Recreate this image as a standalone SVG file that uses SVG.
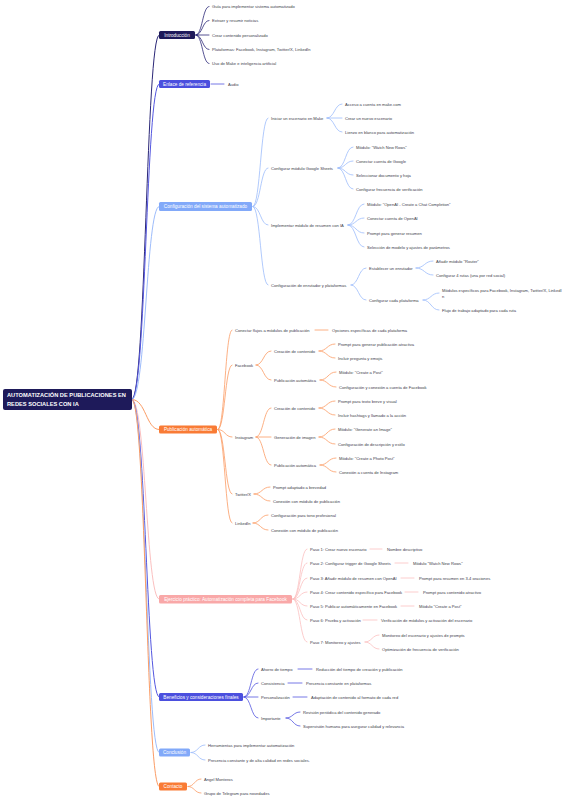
<svg xmlns="http://www.w3.org/2000/svg" width="568" height="800" viewBox="0 0 568 800">
<style>
text{font-family:"Liberation Sans",Arial,sans-serif;dominant-baseline:central}
.t{font-size:4.1px;fill:#3d3d4a}
.b{font-size:4.7px;fill:#fff;text-anchor:middle}
.r{font-size:5.7px;fill:#fff;font-weight:bold}
path{fill:none;stroke-linecap:round}
.navy{stroke:#2b2777;stroke-width:0.8}
.blue{stroke:#5457e0;stroke-width:0.8}
.lb{stroke:#9dbcfb;stroke-width:0.8}
.or{stroke:#fb9c65;stroke-width:0.8}
.pk{stroke:#fbc0c0;stroke-width:0.8}
.m{stroke-width:1}
</style>
<rect width="568" height="800" fill="#fff"/>
<g id="connectors">
<path class="navy m" d="M132 399.5C146 399.5 146 35 159 35"/>
<path class="blue m" d="M132 399.5C146 399.5 146 84 159 84"/>
<path class="lb m" d="M132 399.5C146 399.5 146 206.5 159 206.5"/>
<path class="or m" d="M132 399.5C146 399.5 146 429.5 159 429.5"/>
<path class="pk m" d="M132 399.5C146 399.5 146 599 159 599"/>
<path class="blue m" d="M132 399.5C146 399.5 146 697 159 697"/>
<path class="lb m" d="M132 399.5C146 399.5 146 752.5 159 752.5"/>
<path class="or m" d="M132 399.5C146 399.5 146 786.5 159 786.5"/>
<path class="navy" d="M196 35C202.5 35 202.5 6.5 209 6.5M196 35C202.5 35 202.5 20.5 209 20.5M196 35L209 35M196 35C202.5 35 202.5 49.5 209 49.5M196 35C202.5 35 202.5 63.5 209 63.5"/>
<path class="blue" d="M211 84L224 84"/>
<path class="lb" d="M253 206.5C260.5 206.5 260.5 118 268 118M253 206.5C260.5 206.5 260.5 168 268 168M253 206.5C260.5 206.5 260.5 225 268 225M253 206.5C260.5 206.5 260.5 285 268 285"/>
<path class="lb" d="M327 118C334.5 118 334.5 104 342 104M327 118L342 118M327 118C334.5 118 334.5 132 342 132"/>
<path class="lb" d="M338 168C345.5 168 345.5 147 353 147M338 168C345.5 168 345.5 161 353 161M338 168C345.5 168 345.5 175 353 175M338 168C345.5 168 345.5 189 353 189"/>
<path class="lb" d="M348 225C356 225 356 204 364 204M348 225C356 225 356 218 364 218M348 225C356 225 356 233 364 233M348 225C356 225 356 247 364 247"/>
<path class="lb" d="M351 285C358.5 285 358.5 268 366 268M351 285C358.5 285 358.5 300 366 300"/>
<path class="lb" d="M416 268C424.5 268 424.5 261 433 261M416 268C424.5 268 424.5 275 433 275"/>
<path class="lb" d="M423 300C431 300 431 293 439 293M423 300C431 300 431 310 439 310"/>
<path class="or" d="M218 429.5C225 429.5 225 330 232 330M218 429.5C225 429.5 225 365 232 365M218 429.5C225 429.5 225 437 232 437M218 429.5C225 429.5 225 494 232 494M218 429.5C225 429.5 225 523 232 523"/>
<path class="or" d="M315 330L328 330"/>
<path class="or" d="M256 365C263.5 365 263.5 351 271 351M256 365C263.5 365 263.5 380 271 380"/>
<path class="or" d="M319 351C327 351 327 344 335 344M319 351C327 351 327 358 335 358"/>
<path class="or" d="M320 380C328 380 328 372 336 372M320 380C328 380 328 387 336 387"/>
<path class="or" d="M256 437C263.5 437 263.5 408 271 408M256 437L271 437M256 437C263.5 437 263.5 465 271 465"/>
<path class="or" d="M319 408C327 408 327 401 335 401M319 408C327 408 327 415 335 415"/>
<path class="or" d="M319 437C327 437 327 429 335 429M319 437C327 437 327 444 335 444"/>
<path class="or" d="M320 465C328 465 328 458 336 458M320 465C328 465 328 472 336 472"/>
<path class="or" d="M254 494C262 494 262 487 270 487M254 494C262 494 262 501 270 501"/>
<path class="or" d="M253 523C260.5 523 260.5 515 268 515M253 523C260.5 523 260.5 530 268 530"/>
<path class="pk" d="M293 599C300 599 300 549 307 549M293 599C300 599 300 563 307 563M293 599C300 599 300 578 307 578M293 599C300 599 300 592 307 592M293 599C300 599 300 606 307 606M293 599C300 599 300 620 307 620M293 599C300 599 300 642 307 642"/>
<path class="pk" d="M370 549L382 549M395 563L408 563M401 578L414 578M405 592L418 592M401 606L414 606M363 620L377 620"/>
<path class="pk" d="M365 642C372 642 372 635 379 635M365 642C372 642 372 649 379 649"/>
<path class="blue" d="M244 697C251 697 251 669 258 669M244 697C251 697 251 683 258 683M244 697L258 697M244 697C251 697 251 718 258 718"/>
<path class="blue" d="M298 669L312 669M288 683L302 683M293 697L307 697"/>
<path class="blue" d="M286 718C293 718 293 712 300 712M286 718C293 718 293 726 300 726"/>
<path class="lb" d="M191 752.5C198 752.5 198 745 205 745M191 752.5C198 752.5 198 760 205 760"/>
<path class="or" d="M188 786.5C194.5 786.5 194.5 779 201 779M188 786.5C194.5 786.5 194.5 793 201 793"/>
</g>
<g id="root">
<rect x="3" y="389" width="129" height="21" rx="2" fill="#1e1a5a"/>
<text class="r" x="7" y="395.2">AUTOMATIZACIÓN DE PUBLICACIONES EN</text>
<text class="r" x="7" y="404.3">REDES SOCIALES CON IA</text>
</g>
<g id="intro">
<rect x="159" y="31" width="36" height="8" rx="1.5" fill="#1e1a5a"/>
<text class="b" x="177" y="35">Introducción</text>
<text class="t" x="212" y="6.5">Guía para implementar sistema automatizado</text>
<text class="t" x="212" y="20.5">Extraer y resumir noticias</text>
<text class="t" x="212" y="35">Crear contenido personalizado</text>
<text class="t" x="212" y="49.5">Plataformas: Facebook, Instagram, Twitter/X, LinkedIn</text>
<text class="t" x="212" y="63.5">Uso de Make e inteligencia artificial</text>
</g>
<g id="enlace">
<rect x="159" y="80" width="51" height="8" rx="1.5" fill="#4b4fde"/>
<text class="b" x="184.5" y="84">Enlace de referencia</text>
<text class="t" x="228" y="84">Audio</text>
</g>
<g id="config">
<rect x="159" y="202" width="93" height="9" rx="1.5" fill="#82a9f9"/>
<text class="b" x="205.5" y="206.5">Configuración del sistema automatizado</text>
<text class="t" x="271" y="118">Iniciar un escenario en Make</text>
<text class="t" x="345" y="104">Acceso a cuenta en make.com</text>
<text class="t" x="345" y="118">Crear un nuevo escenario</text>
<text class="t" x="345" y="132">Lienzo en blanco para automatización</text>
<text class="t" x="271" y="168">Configurar módulo Google Sheets</text>
<text class="t" x="356" y="147">Módulo: "Watch New Rows"</text>
<text class="t" x="356" y="161">Conectar cuenta de Google</text>
<text class="t" x="356" y="175">Seleccionar documento y hoja</text>
<text class="t" x="356" y="189">Configurar frecuencia de verificación</text>
<text class="t" x="271" y="225">Implementar módulo de resumen con IA</text>
<text class="t" x="367" y="204">Módulo: "OpenAI - Create a Chat Completion"</text>
<text class="t" x="367" y="218">Conectar cuenta de OpenAI</text>
<text class="t" x="367" y="233">Prompt para generar resumen</text>
<text class="t" x="367" y="247">Selección de modelo y ajustes de parámetros</text>
<text class="t" x="271" y="285">Configuración de enrutador y plataformas</text>
<text class="t" x="369" y="268">Establecer un enrutador</text>
<text class="t" x="436" y="261">Añadir módulo "Router"</text>
<text class="t" x="436" y="275">Configurar 4 rutas (una por red social)</text>
<text class="t" x="369" y="300">Configurar cada plataforma</text>
<text class="t" x="442" y="290">Módulos específicos para Facebook, Instagram, Twitter/X, LinkedI</text>
<text class="t" x="442" y="296">n</text>
<text class="t" x="442" y="310">Flujo de trabajo adaptado para cada ruta</text>
</g>
<g id="publicacion">
<rect x="159" y="425.5" width="58" height="8" rx="1.5" fill="#f97b35"/>
<text class="b" x="188" y="429.5">Publicación automática</text>
<text class="t" x="235" y="330">Conectar flujos a módulos de publicación</text>
<text class="t" x="332" y="330">Opciones específicas de cada plataforma</text>
<text class="t" x="235" y="365">Facebook</text>
<text class="t" x="274" y="351">Creación de contenido</text>
<text class="t" x="338" y="344">Prompt para generar publicación atractiva</text>
<text class="t" x="338" y="358">Incluir pregunta y emojis</text>
<text class="t" x="274" y="380">Publicación automática</text>
<text class="t" x="339" y="372">Módulo: "Create a Post"</text>
<text class="t" x="339" y="387">Configuración y conexión a cuenta de Facebook</text>
<text class="t" x="235" y="437">Instagram</text>
<text class="t" x="274" y="408">Creación de contenido</text>
<text class="t" x="338" y="401">Prompt para texto breve y visual</text>
<text class="t" x="338" y="415">Incluir hashtags y llamado a la acción</text>
<text class="t" x="274" y="437">Generación de imagen</text>
<text class="t" x="338" y="429">Módulo: "Generate an Image"</text>
<text class="t" x="338" y="444">Configuración de descripción y estilo</text>
<text class="t" x="274" y="465">Publicación automática</text>
<text class="t" x="339" y="458">Módulo: "Create a Photo Post"</text>
<text class="t" x="339" y="472">Conexión a cuenta de Instagram</text>
<text class="t" x="235" y="494">Twitter/X</text>
<text class="t" x="273" y="487">Prompt adaptado a brevedad</text>
<text class="t" x="273" y="501">Conexión con módulo de publicación</text>
<text class="t" x="235" y="523">LinkedIn</text>
<text class="t" x="271" y="515">Configuración para tono profesional</text>
<text class="t" x="271" y="530">Conexión con módulo de publicación</text>
</g>
<g id="ejercicio">
<rect x="159" y="595" width="133" height="8.5" rx="1.5" fill="#f9a8a8"/>
<text class="b" x="225.5" y="599.2">Ejercicio práctico: Automatización completa para Facebook</text>
<text class="t" x="310" y="549">Paso 1: Crear nuevo escenario</text>
<text class="t" x="387" y="549">Nombre descriptivo</text>
<text class="t" x="310" y="563">Paso 2: Configurar trigger de Google Sheets</text>
<text class="t" x="413" y="563">Módulo "Watch New Rows"</text>
<text class="t" x="310" y="578">Paso 3: Añadir módulo de resumen con OpenAI</text>
<text class="t" x="419" y="578">Prompt para resumen en 3-4 oraciones</text>
<text class="t" x="310" y="592">Paso 4: Crear contenido específico para Facebook</text>
<text class="t" x="423" y="592">Prompt para contenido atractivo</text>
<text class="t" x="310" y="606">Paso 5: Publicar automáticamente en Facebook</text>
<text class="t" x="419" y="606">Módulo "Create a Post"</text>
<text class="t" x="310" y="620">Paso 6: Prueba y activación</text>
<text class="t" x="381" y="620">Verificación de módulos y activación del escenario</text>
<text class="t" x="310" y="642">Paso 7: Monitoreo y ajustes</text>
<text class="t" x="382" y="635">Monitoreo del escenario y ajustes de prompts</text>
<text class="t" x="382" y="649">Optimización de frecuencia de verificación</text>
</g>
<g id="beneficios">
<rect x="159" y="693" width="84" height="8" rx="1.5" fill="#4b4fde"/>
<text class="b" x="201" y="697">Beneficios y consideraciones finales</text>
<text class="t" x="261" y="669">Ahorro de tiempo</text>
<text class="t" x="316" y="669">Reducción del tiempo de creación y publicación</text>
<text class="t" x="261" y="683">Consistencia</text>
<text class="t" x="306" y="683">Presencia constante en plataformas</text>
<text class="t" x="261" y="697">Personalización</text>
<text class="t" x="311" y="697">Adaptación de contenido al formato de cada red</text>
<text class="t" x="261" y="718">Importante</text>
<text class="t" x="303" y="712">Revisión periódica del contenido generado</text>
<text class="t" x="303" y="726">Supervisión humana para asegurar calidad y relevancia</text>
</g>
<g id="conclusion">
<rect x="159" y="748.5" width="31" height="8" rx="1.5" fill="#82a9f9"/>
<text class="b" x="174.5" y="752.5">Conclusión</text>
<text class="t" x="208" y="745">Herramientas para implementar automatización</text>
<text class="t" x="208" y="760">Presencia constante y de alta calidad en redes sociales.</text>
</g>
<g id="contacto">
<rect x="159" y="782.5" width="28" height="8" rx="1.5" fill="#f97b35"/>
<text class="b" x="173" y="786.5">Contacto</text>
<text class="t" x="204" y="779">Angel Monteros</text>
<text class="t" x="204" y="793">Grupo de Telegram para novedades</text>
</g>
</svg>
